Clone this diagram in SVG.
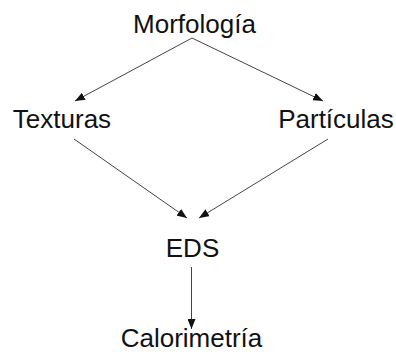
<svg xmlns="http://www.w3.org/2000/svg" width="396" height="352" viewBox="0 0 396 352">
<style>
text{font-family:"Liberation Sans",Arial,sans-serif;font-size:26px;fill:#111;text-anchor:middle}
.c line{stroke:#444;stroke-width:1;marker-end:url(#ah)}
</style>
<defs>
<marker id="ah" markerWidth="10" markerHeight="8" refX="10" refY="4" orient="auto" markerUnits="userSpaceOnUse">
<path d="M0,0 L10,4 L0,8 Z" fill="#111"/>
</marker>
</defs>
<rect width="396" height="352" fill="#fff"/>
<g class="c">
<line x1="192" y1="38" x2="75" y2="101"/>
<line x1="192" y1="38" x2="323" y2="101"/>
<line x1="74" y1="139" x2="187" y2="218"/>
<line x1="328" y1="139" x2="199" y2="218"/>
<line x1="191.5" y1="267" x2="191.5" y2="329"/>
</g>
<g id="morfologia"><text x="194.5" y="33">Morfología</text></g>
<g id="texturas"><text x="62" y="128">Texturas</text></g>
<g id="particulas"><text x="336" y="128">Partículas</text></g>
<g id="eds"><text x="192.5" y="257">EDS</text></g>
<g id="calorimetria"><text x="191.5" y="347">Calorimetría</text></g>
</svg>
